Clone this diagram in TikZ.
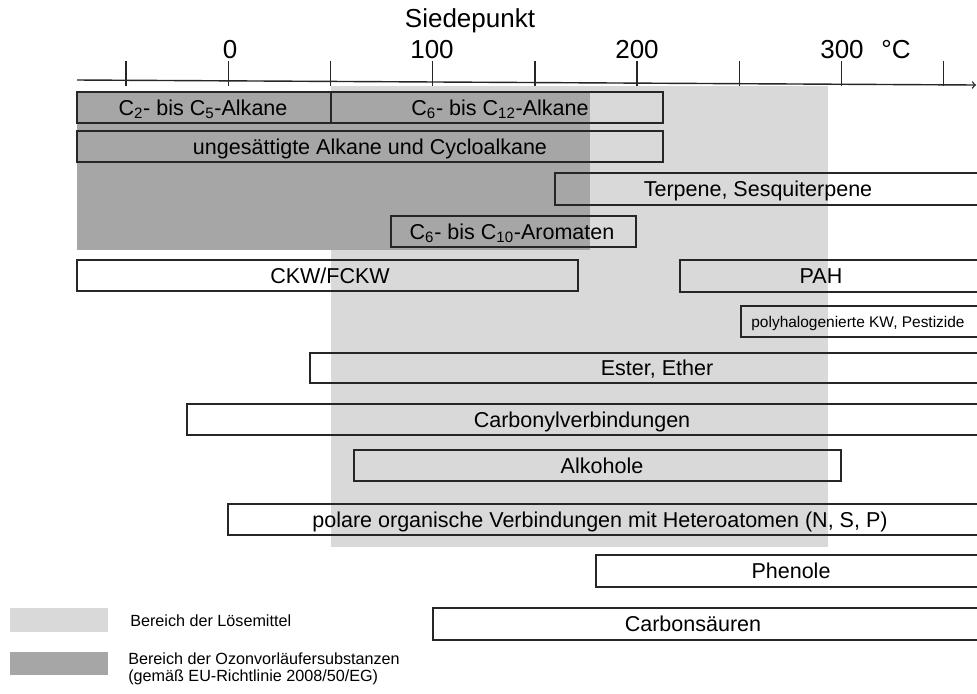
\documentclass[tikz,border=0pt]{standalone}
\usepackage{fontspec}
\setmainfont{Liberation Sans}
\definecolor{solvgray}{HTML}{D9D9D9}
\definecolor{ozongray}{HTML}{A6A6A6}
\definecolor{linegray}{HTML}{262626}
\begin{document}
\begin{tikzpicture}[x=0.025cm, y=-0.025cm,
        bar/.style = {draw=linegray, line width=1pt},
        lbl/.style = {inner sep=0pt, text height=11pt, text depth=0pt, font=\fontsize{15.3}{18}\selectfont},
        lblsmall/.style = {inner sep=0pt, text height=7.9pt, text depth=0pt, font=\fontsize{11}{13}\selectfont},
        axlbl/.style = {inner sep=0pt, anchor=base, font=\fontsize{18.5}{22}\selectfont},
        leg/.style = {inner sep=0pt, anchor=base west, font=\fontsize{11.5}{13}\selectfont},
        axisline/.style = {draw=linegray, line width=1pt},
    ]
    \useasboundingbox (0,0) rectangle (977,693);
    \begin{scope}
        \clip (0,0) rectangle (977,693);
        % Bereiche
        \fill[solvgray] (331,86) rectangle (828,547);
        \fill[ozongray] (77,92) rectangle (590,250);

        % Balken
        \draw[bar] (77,92) rectangle (331,123);
        \draw[bar] (331,92) rectangle (663,123);
        \draw[bar] (77,131) rectangle (663,162);
        \draw[bar] (555,173) rectangle (1010,205);
        \draw[bar] (391,216) rectangle (636,247);
        \draw[bar] (77,260) rectangle (578,291);
        \draw[bar] (680,260) rectangle (1010,292);
        \draw[bar] (741,306) rectangle (1010,337);
        \draw[bar] (310,353) rectangle (1010,383);
        \draw[bar] (187,404) rectangle (1010,435);
        \draw[bar] (354,450) rectangle (841,481);
        \draw[bar] (228,504) rectangle (1010,535);
        \draw[bar] (596,555) rectangle (1010,587);
        \draw[bar] (433,608) rectangle (1010,640);

        \node (c25) [lbl] at (203,107.5) {C\textsubscript{2}- bis C\textsubscript{5}-Alkane};
        \node (c612) [lbl] at (500,107.5) {C\textsubscript{6}- bis C\textsubscript{12}-Alkane};
        \node (unges) [lbl] at (370,146.5) {ungesättigte Alkane und Cycloalkane};
        \node (terp) [lbl] at (758,189) {Terpene, Sesquiterpene};
        \node (arom) [lbl] at (512,231.5) {C\textsubscript{6}- bis C\textsubscript{10}-Aromaten};
        \node (ckw) [lbl] at (330,275.5) {CKW/FCKW};
        \node (pah) [lbl] at (821,276) {PAH};
        \node (polyh) [lblsmall] at (858,321.5) {polyhalogenierte KW, Pestizide};
        \node (ester) [lbl] at (657,368) {Ester, Ether};
        \node (carbonyl) [lbl] at (582,419.5) {Carbonylverbindungen};
        \node (alk) [lbl] at (602,465.5) {Alkohole};
        \node (polar) [lbl] at (600,519.5) {polare organische Verbindungen mit Heteroatomen (N, S, P)};
        \node (phen) [lbl] at (791,571) {Phenole};
        \node (carbs) [lbl] at (693,624) {Carbonsäuren};

        % Achse
        \coordinate (axL) at (77,80);
        \coordinate (axR) at (976,85);
        \draw[axisline, ->] (axL) -- (axR);
        \foreach \i in {0,...,8}
            \draw[axisline] ({126+102.2*\i},61) -- ({126+102.2*\i},86);
    \end{scope}

    \node (title) [axlbl] at (470,27) {Siedepunkt};
    \node (t0) [axlbl] at (230,58) {0};
    \node (t100) [axlbl] at (432,58) {100};
    \node (t200) [axlbl] at (637,58) {200};
    \node (t300) [axlbl] at (842,58) {300};
    \node (unit) [axlbl] at (896,58) {°C};

    % Legende
    \fill[solvgray] (10,608) rectangle (108,632);
    \fill[ozongray] (10,652) rectangle (108,675);
    \node (legsolv) [leg] at (130,626) {Bereich der Lösemittel};
    \node (legozon) [leg] at (128,664) {Bereich der Ozonvorläufersubstanzen};
    \node (legeu) [leg] at (128,681) {(gemäß EU-Richtlinie 2008/50/EG)};
\end{tikzpicture}
\end{document}
